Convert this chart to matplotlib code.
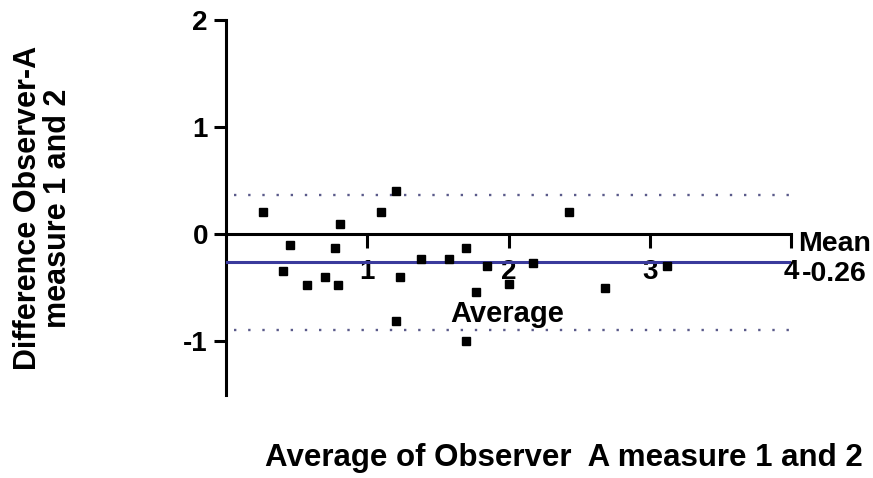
import matplotlib.pyplot as plt

plt.rcParams['font.family'] = ['Liberation Sans', 'DejaVu Sans']
plt.rcParams['font.weight'] = 'bold'

# Bland-Altman values
avg_ab = [0.26, 0.40, 0.45, 0.57, 0.70, 0.77, 0.79, 0.81, 1.10, 1.20, 1.20,
          1.23, 1.38, 1.58, 1.70, 1.70, 1.77, 1.85, 2.00, 2.17, 2.43, 2.68, 3.12]
diff_ab = [0.21, -0.34, -0.10, -0.47, -0.40, -0.13, -0.47, 0.10, 0.21, 0.40, -0.81,
           -0.40, -0.23, -0.23, -0.13, -1.00, -0.54, -0.30, -0.46, -0.27, 0.21, -0.50, -0.30]
mean_diff = -0.26
upper_loa = 0.37
lower_loa = -0.89
x_ticks = [1, 2, 3, 4]
y_ticks = [-1, 0, 1, 2]

fig = plt.figure(figsize=(8.73, 4.78), dpi=100)
ax = fig.add_axes([0.2589, 0.1736, 0.6472, 0.7846])

ax.plot(avg_ab, diff_ab, 's', color='black', markersize=6.3, zorder=4)
ax.plot([0, 4], [mean_diff, mean_diff], color='#3a3a9c', lw=2.2, zorder=3)
for lim in (upper_loa, lower_loa):
    ax.plot([0.06, 4], [lim, lim], color='#5a5a8a', lw=1.7,
            linestyle=(0, (1, 5)), zorder=2)

ax.set_xlim(0, 4)
ax.set_ylim(-1.5, 2)

## spines: y axis on the left, x axis crossing at zero
ax.spines['top'].set_visible(False)
ax.spines['right'].set_visible(False)
ax.spines['bottom'].set_position(('data', 0))
ax.spines['bottom'].set_bounds(0, 4)
ax.spines['left'].set_linewidth(2.2)
ax.spines['bottom'].set_linewidth(2.2)

ax.set_xticks(x_ticks)
ax.set_xticklabels([str(t) for t in x_ticks])
ax.set_yticks(y_ticks)
ax.set_yticklabels([str(t) for t in y_ticks])
ax.tick_params(axis='x', length=10, width=2.2, pad=8, labelsize=20)
ax.tick_params(axis='y', length=9, width=2.2, pad=4, labelsize=20)
for lab in ax.get_xticklabels() + ax.get_yticklabels():
    lab.set_fontweight('bold')

ax.text(1.586, -0.745, 'Average', fontsize=21, fontweight='bold', ha='left', va='center')
ax.text(4.05, -0.09, 'Mean', fontsize=20.5, fontweight='bold', ha='left', va='center')
ax.text(4.08, -0.37, '-0.26', fontsize=20.5, fontweight='bold', ha='left', va='center')

fig.text(43 / 873, 1 - 208 / 478, 'Difference Observer-A\nmeasure 1 and 2',
         rotation=90, ha='center', va='center', fontsize=22, fontweight='bold',
         linespacing=1.0)
fig.text(564 / 873, 1 - 458 / 478, 'Average of Observer  A measure 1 and 2',
         ha='center', va='center', fontsize=22.5, fontweight='bold')

fig.savefig('out.png', dpi=100)
